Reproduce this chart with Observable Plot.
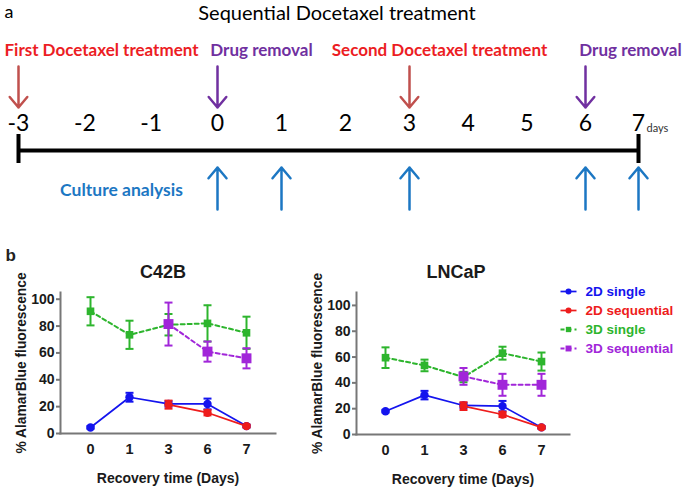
<!DOCTYPE html>
<html><head><meta charset="utf-8">
<script src="https://cdn.jsdelivr.net/npm/d3@7"></script>
<script src="https://cdn.jsdelivr.net/npm/@observablehq/plot@0.6"></script>
<style>
body{margin:0;background:#fff;}
#wrap{position:relative;width:685px;height:488px;overflow:hidden;background:#fff;}
#wrap svg{position:absolute;}
</style></head><body><div id="wrap"></div>
<script>
// ---------- Panel a data ----------
const panelATitle = "Sequential Docetaxel treatment";
const timelineDays = [-3, -2, -1, 0, 1, 2, 3, 4, 5, 6, 7];
const eventDays = [-3, 0, 3, 6];
const eventLabels = ["First Docetaxel treatment", "Drug removal", "Second Docetaxel treatment", "Drug removal"];
const eventKinds = ["treatment", "removal", "treatment", "removal"];
const cultureDays = [0, 1, 3, 6, 7];
const cultureLabel = "Culture analysis";

// ---------- Panel b data ----------
const recoveryDays = ["0", "1", "3", "6", "7"];
const seriesNames = ["2D single", "2D sequential", "3D single", "3D sequential"];
const seriesColors = ["#1414ee", "#ee1c1c", "#2db52d", "#a126d9"];

const c42b2DSingle      = [4.5, 27, 22, 22, 5.5];
const c42b2DSingleErr   = [1, 3.3, 2, 4, 1];
const c42b2DSeq         = [null, null, 21.5, 15.5, 5.5];
const c42b2DSeqErr      = [null, null, 3, 2, 1];
const c42b3DSingle      = [91, 73.5, 81, 82, 75];
const c42b3DSingleErr   = [10.5, 10.5, 8, 13.5, 12];
const c42b3DSeq         = [null, null, 81.5, 61, 56];
const c42b3DSeqErr      = [null, null, 16, 7.5, 7.5];

const lncap2DSingle     = [18, 30.5, 22.5, 22, 5.5];
const lncap2DSingleErr  = [1, 3.3, 2, 4, 1];
const lncap2DSeq        = [null, null, 22, 15.5, 5.5];
const lncap2DSeqErr     = [null, null, 3, 2, 1];
const lncap3DSingle     = [59.5, 53.5, 44.5, 63, 56.5];
const lncap3DSingleErr  = [8, 4.5, 4, 5, 7];
const lncap3DSeq        = [null, null, 45, 38.5, 38.5];
const lncap3DSeqErr     = [null, null, 6.5, 8.5, 8.5];

const yTicks = [0, 20, 40, 60, 80, 100];
const yLabel = "% AlamarBlue fluorescence";
const xLabel = "Recovery time (Days)";

// ---------- helpers ----------
function rowsFor(series, values, errs) {
  return values.map((v, i) => ({series, day: recoveryDays[i], value: v, err: errs[i]}))
               .filter(d => d.value != null);
}
const capSymbol = {
  draw(ctx, size) {
    const w = Math.sqrt(size / Math.PI);
    ctx.moveTo(-w, 0); ctx.lineTo(w, 0);
  }
};
const wrap = document.getElementById("wrap");
function place(svg, left, top) {
  svg.style.left = left + "px"; svg.style.top = top + "px";
  wrap.appendChild(svg);
}

// ---------- Panel a ----------
const evRows = eventDays.map((d, i) => ({day: d, label: eventLabels[i], kind: eventKinds[i]}));
const labelColor = {treatment: "#ec1d24", removal: "#7030a0"};
const arrowColor = {treatment: "#c0504d", removal: "#7030a0"};
const labelDx = [83, 44, 30, 45];
const blue = "#1c77c3";

const panelA = Plot.plot({
  width: 685, height: 240, margin: 0,
  style: {background: "none", fontFamily: "Lato, 'Open Sans', sans-serif", color: "#000"},
  x: {type: "linear", domain: [-3, 0, 3, 6, 7], range: [18, 217, 409, 585, 638], axis: null},
  y: {type: "linear", domain: [0, 240], range: [0, 240], axis: null},
  marks: [
    Plot.text(["a"], {frameAnchor: "top-left", dx: 4, dy: 12, lineAnchor: "middle", fontSize: 18}),
    Plot.text([panelATitle], {frameAnchor: "top", dx: -6, dy: 13, lineAnchor: "middle", fontSize: 20}),
    ...evRows.map((e, i) => Plot.text([e], {
      x: "day", y: 50, text: "label", dx: labelDx[i], fill: labelColor[e.kind],
      fontSize: 17, fontWeight: "bold"
    })),
    Plot.arrow(evRows, {x: "day", y1: 66, y2: 107, stroke: d => arrowColor[d.kind],
      strokeWidth: 2.5, headLength: 10, headAngle: 80}),
    Plot.text(timelineDays, {x: d => d, y: 123, text: d => String(d), fontSize: 23}),
    Plot.text(["days"], {x: 7, y: 128, dx: 8, textAnchor: "start", fontSize: 11, fill: "#333"}),
    Plot.ruleY([150], {x1: -3, x2: 7, strokeWidth: 4, stroke: "#000"}),
    Plot.ruleX([-3, 7], {y1: 134, y2: 163, strokeWidth: 4, stroke: "#000"}),
    Plot.arrow(cultureDays, {x: d => d, y1: 209, y2: 167, stroke: blue,
      strokeWidth: 2.5, headLength: 10, headAngle: 80}),
    Plot.text([cultureLabel], {x: cultureDays[0], y: 190, dx: -96, fill: blue,
      fontSize: 17.5, fontWeight: "bold"})
  ]
});
place(panelA, 0, 0);

// ---------- Panel b charts ----------
function lineChart({title, titleDx, rows, yMax, width, marginLeft, plotWidth, marginBottom, panelLabel}) {
  const color = {domain: seriesNames, range: seriesColors};
  const marks = [
    Plot.frame({anchor: "left", stroke: "#777", strokeWidth: 2}),
    Plot.frame({anchor: "bottom", stroke: "#777", strokeWidth: 2}),
    Plot.axisY({ticks: yTicks, tickSize: 4, tickPadding: 2, tickFormat: "d", fontSize: 14,
      fontWeight: "bold", label: null, stroke: "#777", strokeWidth: 2, fill: "#1a1a1a"}),
    Plot.axisX({tickSize: 0, tickPadding: 10, fontSize: 14.5, fontWeight: "bold", label: null, fill: "#1a1a1a"}),
    Plot.text([yLabel], {frameAnchor: "left", dx: -39, rotate: -90, textAnchor: "middle",
      lineAnchor: "middle", fontSize: 13.8, fontWeight: "bold", fill: "#1a1a1a"}),
    Plot.text([xLabel], {frameAnchor: "bottom", dy: 45, lineAnchor: "middle", fontSize: 14, fontWeight: "bold", fill: "#1a1a1a"}),
    Plot.text([title], {frameAnchor: "top", dx: titleDx, dy: -20, lineAnchor: "middle", fontSize: 18, fontWeight: "bold", fill: "#1a1a1a"})
  ];
  if (panelLabel) marks.push(Plot.text([panelLabel], {frameAnchor: "top-left", dx: -55, dy: -37,
    lineAnchor: "middle", fontSize: 17, fontWeight: "bold", textAnchor: "start"}));
  seriesNames.forEach((s) => {
    const d = rows.filter(r => r.series === s);
    const is3D = s.startsWith("3D");
    marks.push(
      Plot.line(d, {x: "day", y: "value", stroke: "series", strokeWidth: is3D ? 2 : 1.7,
        strokeDasharray: is3D ? "4,3" : null}),
      Plot.ruleX(d, {x: "day", y1: r => r.value - r.err, y2: r => r.value + r.err,
        stroke: "series", strokeWidth: 2}),
      Plot.dot(d, {x: "day", y: r => r.value + r.err, symbol: capSymbol, r: 4, fill: "none",
        stroke: "series", strokeWidth: 2}),
      Plot.dot(d, {x: "day", y: r => r.value - r.err, symbol: capSymbol, r: 4, fill: "none",
        stroke: "series", strokeWidth: 2}),
      Plot.dot(d, {x: "day", y: "value", symbol: is3D ? "square" : "circle",
        r: s === "3D sequential" ? 5.6 : (is3D ? 4.3 : 4.2), fill: "series", stroke: "none"})
    );
  });
  return Plot.plot({
    width, height: 248, marginLeft, marginRight: width - marginLeft - plotWidth,
    marginTop: 52, marginBottom,
    style: {background: "none", fontFamily: "'Liberation Sans', Arial, sans-serif", color: "#222"},
    x: {type: "point", domain: recoveryDays, padding: 0.7},
    y: {domain: [0, yMax]},
    color,
    marks
  });
}

const c42bRows = [
  ...rowsFor("2D single", c42b2DSingle, c42b2DSingleErr),
  ...rowsFor("2D sequential", c42b2DSeq, c42b2DSeqErr),
  ...rowsFor("3D single", c42b3DSingle, c42b3DSingleErr),
  ...rowsFor("3D sequential", c42b3DSeq, c42b3DSeqErr)
];
const lncapRows = [
  ...rowsFor("2D single", lncap2DSingle, lncap2DSingleErr),
  ...rowsFor("2D sequential", lncap2DSeq, lncap2DSeqErr),
  ...rowsFor("3D single", lncap3DSingle, lncap3DSingleErr),
  ...rowsFor("3D sequential", lncap3DSeq, lncap3DSeqErr)
];

place(lineChart({title: "C42B", titleDx: -5, rows: c42bRows, yMax: 105, width: 290, marginLeft: 60, plotWidth: 215,
  marginBottom: 55, panelLabel: "b"}), 0, 240);
place(lineChart({title: "LNCaP", titleDx: -7, rows: lncapRows, yMax: 110, width: 282, marginLeft: 59, plotWidth: 213,
  marginBottom: 54}), 297, 240);

// ---------- Legend ----------
const legendRows = seriesNames.map(s => ({series: s}));
const legend = Plot.plot({
  width: 130, height: 80, margin: 0,
  style: {background: "none", fontFamily: "'Liberation Sans', Arial, sans-serif"},
  x: {domain: [0, 1], range: [5, 21], axis: null},
  y: {type: "point", domain: seriesNames, range: [10.7, 69], padding: 0, axis: null},
  color: {domain: seriesNames, range: seriesColors},
  marks: [
    Plot.link(legendRows.filter(d => d.series.startsWith("2D")), {x1: 0, x2: 1, y1: "series", y2: "series", stroke: "series", strokeWidth: 1.7}),
    Plot.link(legendRows.filter(d => d.series.startsWith("3D")), {x1: 0, x2: 1, y1: "series", y2: "series", stroke: "series", strokeWidth: 2, strokeDasharray: "4,3"}),
    Plot.dot(legendRows, {x: 0.5, y: "series", fill: "series", stroke: "none",
      symbol: d => d.series.startsWith("3D") ? "square" : "circle",
      r: d => d.series === "3D sequential" ? 5.2 : 4.2}),
    Plot.text(legendRows, {x: 1, y: "series", text: "series", dx: 9, textAnchor: "start",
      fill: "series", fontSize: 13.5, fontWeight: "bold"})
  ]
});
place(legend, 555, 280);
</script></body></html>
